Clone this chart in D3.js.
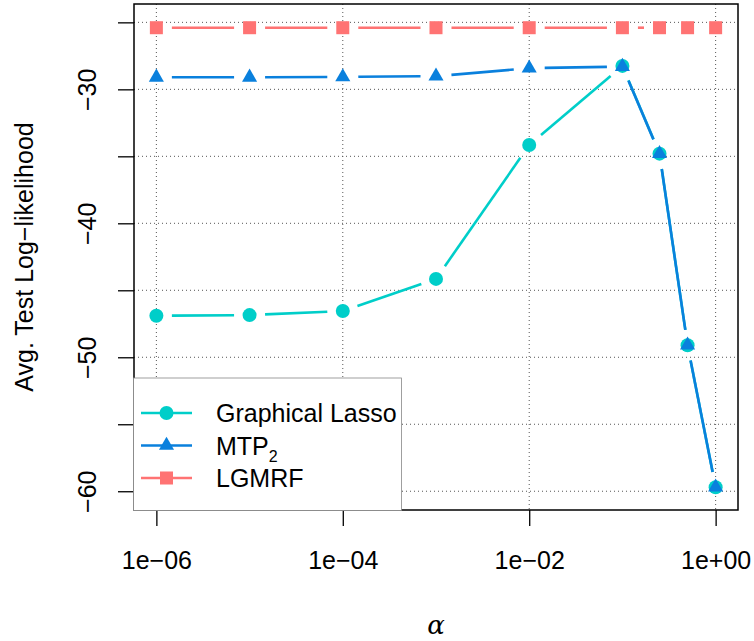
<!DOCTYPE html>
<html><head><meta charset="utf-8">
<script src="https://cdn.jsdelivr.net/npm/d3@7"></script>
<style>body{margin:0;background:#fff}svg{display:block}</style>
</head><body>
<script>
const alphas = [1e-6, 1e-5, 1e-4, 1e-3, 1e-2, 1e-1, 0.25, 0.5, 1];
const glasso = [-46.9, -46.85, -46.55, -44.15, -34.16, -28.25, -34.8, -49.1, -59.7];
const mtp2   = [-29.1, -29.1, -29.07, -29.02, -28.42, -28.3, -34.8, -49.1, -59.7];
const lgmrf  = [-25.4, -25.4, -25.4, -25.4, -25.4, -25.4, -25.4, -25.4, -25.4];
const xTicks = [1e-6, 1e-4, 1e-2, 1];
const xTickLabels = ["1e\u221206", "1e\u221204", "1e\u221202", "1e+00"];
const yTicks = [-25, -30, -35, -40, -45, -50, -55, -60];
const yLabeled = [-30, -40, -50, -60];
const seriesNames = ["Graphical Lasso", "MTP", "LGMRF"];
const colors = ["#00CEC9", "#0A80DD", "#FF7373"];

const W = 754, H = 641;
const L = 134, R = 738, T = 4, B = 510;
const FONT = "'Liberation Sans', Arial, sans-serif";

const svg = d3.select("body").append("svg").attr("width", W).attr("height", H);

const x = d3.scaleLog().domain([Math.pow(10, -6.24), Math.pow(10, 0.24)]).range([L, R]);
const y = d3.scaleLinear().domain([-61.4, -23.63]).range([B, T]);

// grid
const grid = svg.append("g").attr("stroke", "#555").attr("stroke-width", 1).attr("stroke-dasharray", "1,3");
grid.selectAll(".gx").data(xTicks).join("line")
  .attr("x1", d => x(d)).attr("x2", d => x(d)).attr("y1", T).attr("y2", B);
grid.selectAll(".gy").data(yTicks).join("line")
  .attr("x1", L).attr("x2", R).attr("y1", d => y(d)).attr("y2", d => y(d));

// axes
const xAxis = d3.axisBottom(x).tickValues(xTicks).tickSize(16).tickFormat((d, i) => xTickLabels[i]);
const gx = svg.append("g").attr("transform", `translate(0,${B})`).call(xAxis);
gx.select(".domain").remove();
gx.selectAll(".tick line").attr("stroke", "#000").attr("stroke-width", 1.3);
gx.selectAll(".tick text").attr("font-family", FONT).attr("font-size", 25).attr("fill", "#000")
  .attr("dy", null).attr("y", 59);

const yAxis = d3.axisLeft(y).tickValues(yTicks).tickSize(16).tickFormat(d => yLabeled.includes(d) ? "\u2212" + Math.abs(d) : "");
const gy = svg.append("g").attr("transform", `translate(${L},0)`).call(yAxis);
gy.select(".domain").remove();
gy.selectAll(".tick line").attr("stroke", "#000").attr("stroke-width", 1.3);
gy.selectAll(".tick text").attr("font-family", FONT).attr("font-size", 25).attr("fill", "#000")
  .attr("x", null).attr("dy", null).attr("text-anchor", "middle")
  .attr("transform", "translate(-38,0) rotate(-90)");

// frame
svg.append("rect").attr("x", L).attr("y", T).attr("width", R - L).attr("height", B - T)
  .attr("fill", "none").attr("stroke", "#000").attr("stroke-width", 1.5);

// series
const GAP = 15.5;
function drawSeries(vals, color, shape) {
  const g = svg.append("g");
  const pts = alphas.map((a, i) => [x(a), y(vals[i])]);
  for (let i = 0; i < pts.length - 1; i++) {
    const [x1, y1] = pts[i], [x2, y2] = pts[i + 1];
    const dx = x2 - x1, dy = y2 - y1, len = Math.hypot(dx, dy);
    if (len <= 2 * GAP) continue;
    const ux = dx / len, uy = dy / len;
    g.append("line")
      .attr("x1", x1 + ux * GAP).attr("y1", y1 + uy * GAP)
      .attr("x2", x2 - ux * GAP).attr("y2", y2 - uy * GAP)
      .attr("stroke", color).attr("stroke-width", 2.6);
  }
  pts.forEach(p => drawMarker(g, p[0], p[1], color, shape));
}
function drawMarker(g, cx, cy, color, shape) {
  if (shape === "circle") {
    g.append("circle").attr("cx", cx).attr("cy", cy).attr("r", 7).attr("fill", color);
  } else if (shape === "triangle") {
    const s = 5.6;
    const r = 1.5551 * s, xc = 1.3468 * s, yc = 0.7776 * s;
    g.append("path").attr("d", `M${cx},${cy - r}L${cx + xc},${cy + yc}L${cx - xc},${cy + yc}Z`).attr("fill", color);
  } else {
    g.append("rect").attr("x", cx - 6.5).attr("y", cy - 6.5).attr("width", 13).attr("height", 13).attr("fill", color);
  }
}
drawSeries(glasso, colors[0], "circle");
drawSeries(mtp2, colors[1], "triangle");
drawSeries(lgmrf, colors[2], "square");

// legend
const lg = svg.append("g");
lg.append("rect").attr("x", L - 0.5).attr("y", 378).attr("width", 402 - L).attr("height", B - 378 + 0.5)
  .attr("fill", "#fff").attr("stroke", "#888").attr("stroke-width", 0.8);
const shapes = ["circle", "triangle", "square"];
const rowsY = [413, 445.5, 478];
seriesNames.forEach((name, i) => {
  const yy = rowsY[i];
  lg.append("line").attr("x1", 141).attr("x2", 192).attr("y1", yy).attr("y2", yy)
    .attr("stroke", colors[i]).attr("stroke-width", 2.6);
  drawMarker(lg, 166.5, yy, colors[i], shapes[i]);
  const t = lg.append("text").attr("x", 216).attr("y", yy + 9).attr("font-family", FONT)
    .attr("font-size", 25).attr("fill", "#000").text(name);
  if (i === 1) t.append("tspan").attr("font-size", 16).attr("dy", 7).text("2");
});

// axis titles
svg.append("text").attr("transform", "translate(33,257) rotate(-90)").attr("text-anchor", "middle")
  .attr("font-family", FONT).attr("font-size", 25).attr("fill", "#000").text("Avg. Test Log\u2212likelihood");
svg.append("text").attr("x", (L + R) / 2).attr("y", 634).attr("text-anchor", "middle")
  .attr("font-family", "'DejaVu Serif', serif").attr("font-style", "italic").attr("font-size", 26)
  .attr("fill", "#000").text("\u03b1");
</script>
</body></html>
